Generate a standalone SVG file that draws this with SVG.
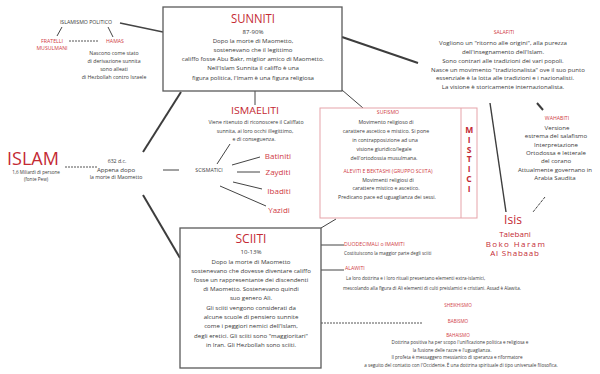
<svg xmlns="http://www.w3.org/2000/svg" width="600" height="374" viewBox="0 0 600 374">
<style>
text{font-family:"Open Sans","Liberation Sans",sans-serif;fill:#3a3a3a;text-anchor:middle}
.r{fill:#cf3a44}
.R{fill:#c42a34}
.l{text-anchor:start}
.f4{font-size:4.6px}.f5{font-size:5.2px}.f6{font-size:6.1px}
.box{fill:#fff;stroke:#5a5a5a;stroke-width:1.3}
.pbox{fill:#fff;stroke:#e6a3a9;stroke-width:1}
.c{stroke:#444;fill:none;stroke-width:1}
.k{stroke:#3d3d3d;fill:none;stroke-width:2}
.d{stroke:#555;fill:none;stroke-width:1;stroke-dasharray:2 1}
.v{writing-mode:vertical-rl;text-orientation:upright;text-anchor:start}
</style>
<rect width="600" height="374" fill="#fff"/>
<g id="connectors">
<line class="c" x1="120" y1="23" x2="163" y2="32" style="stroke-width:1.5"/>
<line class="c" x1="62" y1="27" x2="57" y2="36"/>
<line class="c" x1="108" y1="27" x2="113" y2="37"/>
<line class="d" x1="69" y1="41" x2="98" y2="41"/>
<line class="k" x1="181" y1="92" x2="143" y2="152"/>
<line class="k" x1="143" y1="195" x2="180" y2="258"/>
<line class="d" x1="65" y1="167" x2="97" y2="167"/>
<line class="c" x1="163" y1="170" x2="179" y2="170"/>
<line class="c" x1="217" y1="164" x2="230" y2="144"/>
<line class="c" x1="232" y1="165" x2="260" y2="157"/>
<line class="c" x1="237" y1="172" x2="260" y2="172"/>
<line class="c" x1="233" y1="182" x2="262" y2="189"/>
<line class="c" x1="220" y1="186" x2="266" y2="206"/>
<line class="c" x1="255" y1="91" x2="255" y2="105"/>
<line class="c" x1="342" y1="90" x2="363" y2="108"/>
<line class="k" x1="342" y1="37" x2="418" y2="63"/>
<line class="k" x1="490" y1="103" x2="506" y2="212" style="stroke-width:1.4"/>
<line class="k" x1="537" y1="103" x2="543" y2="110"/>
<line class="c" x1="545" y1="197" x2="533" y2="212" style="stroke-dasharray:3 1"/>
<line class="c" x1="321" y1="228" x2="336" y2="219"/>
<line class="c" x1="321" y1="245" x2="344" y2="245"/>
<line class="c" x1="321" y1="270" x2="344" y2="270"/>
<line class="d" x1="321" y1="323" x2="422" y2="323"/>
</g>
<g id="islamismo">
<text class="f5" x="86" y="24">ISLAMISMO POLITICO</text>
<text class="f5 r" x="52" y="43">FRATELLI</text>
<text class="f5 r" x="52" y="50">MUSULMANI</text>
<text class="f5 r" x="115" y="43">HAMAS</text>
<text class="f5" x="114" y="55">Nascono come stato</text>
<text class="f5" x="114" y="63">di derivazione sunnita</text>
<text class="f5" x="114" y="71">sono alleati</text>
<text class="f5" x="114" y="79">di Hezbollah contro Israele</text>
</g>
<g id="sunniti">
<rect class="box" x="163" y="7" width="179" height="84"/>
<text class="R" x="253" y="23" font-size="12" textLength="44" lengthAdjust="spacingAndGlyphs">SUNNITI</text>
<text class="f6" x="253" y="34">87-90%</text>
<text class="f6" x="253" y="42.5">Dopo la morte di Maometto,</text>
<text class="f6" x="253" y="51.5">sostenevano che il legittimo</text>
<text class="f6" x="253" y="61">califfo fosse Abu Bakr, miglior amico di Maometto.</text>
<text class="f6" x="253" y="70">Nell'Islam Sunnita il califfo è una</text>
<text class="f6" x="253" y="80">figura politica, l'Imam è una figura religiosa</text>
</g>
<g id="islam">
<text class="R" x="33" y="165" font-size="18" textLength="52" lengthAdjust="spacingAndGlyphs">ISLAM</text>
<text class="f4" x="36" y="174">1,6 Miliardi di persone</text>
<text class="f4" x="36" y="181">(fonte Pew)</text>
</g>
<g id="data632">
<text class="f5" x="117" y="163">632 d.c.</text>
<text class="f6" x="116" y="172">Appena dopo</text>
<text class="f5" x="116" y="179">la morte di Maometto</text>
</g>
<g id="scismatici">
<text class="f5" x="209" y="172">SCISMATICI</text>
<text class="r" x="278" y="159" font-size="8">Batiniti</text>
<text class="r" x="278" y="175" font-size="8">Zayditi</text>
<text class="r" x="279" y="194" font-size="8">Ibaditi</text>
<text class="r" x="279" y="213" font-size="8">Yazidi</text>
</g>
<g id="ismaeliti">
<text class="R" x="255" y="114" font-size="9" textLength="48" lengthAdjust="spacingAndGlyphs">ISMAELITI</text>
<text class="f5" x="256" y="124">Viene ritenuto di riconoscere il Califfato</text>
<text class="f5" x="255" y="133">sunnita, ai loro occhi illegittimo,</text>
<text class="f5" x="254" y="141">e di conseguenza.</text>
</g>
<g id="mistici">
<rect class="pbox" x="320" y="108" width="157" height="110"/>
<line x1="461" y1="108" x2="461" y2="218" stroke="#e6a3a9" stroke-width="1"/>
<text class="f5 r" x="388" y="114">SUFISMO</text>
<text class="f5" x="386" y="124">Movimento religioso di</text>
<text class="f5" x="386" y="133">carattere ascetico e mistico. Si pone</text>
<text class="f5" x="385" y="142">in contrapposizione ad una</text>
<text class="f5" x="384" y="151">visione giuridico/legale</text>
<text class="f5" x="384" y="160">dell'ortodossia musulmana.</text>
<text class="f5 r" x="388" y="173">ALEVITI E BEKTASHI (GRUPPO SCIITA)</text>
<text class="f5" x="388" y="182">Movimenti religiosi di</text>
<text class="f5" x="386" y="190">carattere mistico e ascetico.</text>
<text class="f5" x="387" y="199">Predicano pace ed uguaglianza dei sessi.</text>
<text class="R v" x="469" y="124" font-size="8.5" font-weight="bold" letter-spacing="-1.2">MISTICI</text>
</g>
<g id="salafiti">
<text class="f5 r" x="504" y="34">SALAFITI</text>
<text class="f6" x="503" y="45">Vogliono un "ritorno alle origini", alla purezza</text>
<text class="f6" x="503" y="54">dell'insegnamento dell'Islam.</text>
<text class="f6" x="503" y="63">Sono contrari alle tradizioni dei vari popoli.</text>
<text class="f6" x="508" y="72">Nasce un movimento "tradizionalista" ove il suo punto</text>
<text class="f6" x="505" y="80">essenziale è la lotta alle tradizioni e i nazionalisti.</text>
<text class="f6" x="503" y="89">La visione è storicamente internazionalista.</text>
</g>
<g id="wahabiti">
<text class="f5 r" x="557" y="120">WAHABITI</text>
<text class="f6" x="557" y="130">Versione</text>
<text class="f6" x="556" y="138">estrema del salafismo</text>
<text class="f6" x="556" y="147">Interpretazione</text>
<text class="f6" x="556" y="155">Ortodossa e letterale</text>
<text class="f6" x="556" y="163">del corano</text>
<text class="f6" x="555" y="172">Attualmente governano in</text>
<text class="f6" x="555" y="180">Arabia Saudita</text>
</g>
<g id="isis">
<text class="R" x="513" y="224" font-size="12">Isis</text>
<text class="R" x="515" y="237" font-size="8">Talebani</text>
<text class="R" x="516" y="246.5" font-size="8" letter-spacing="1.4">Boko Haram</text>
<text class="R" x="515" y="256" font-size="8" letter-spacing="0.8">Al Shabaab</text>
</g>
<g id="sciiti">
<rect class="box" x="180" y="228" width="141" height="140"/>
<text class="R" x="251" y="243" font-size="13" textLength="31" lengthAdjust="spacingAndGlyphs">SCIITI</text>
<text class="f6" x="251" y="254">10-13%</text>
<text class="f6" x="251" y="263.5">Dopo la morte di Maometto</text>
<text class="f6" x="251" y="272.5">sostenevano che dovesse diventare califfo</text>
<text class="f6" x="251" y="282">fosse un rappresentante dei discendenti</text>
<text class="f6" x="251" y="291">di Maometto. Sostenevano quindi</text>
<text class="f6" x="251" y="300">suo genero Alì.</text>
<text class="f6" x="251" y="310">Gli sciiti vengono considerati da</text>
<text class="f6" x="251" y="319">alcune scuole di pensiero sunnite</text>
<text class="f6" x="251" y="328">come i peggiori nemici dell'Islam,</text>
<text class="f6" x="251" y="338">degli eretici. Gli sciiti sono "maggioritari"</text>
<text class="f6" x="251" y="347">in Iran. Gli Hezbollah sono sciiti.</text>
</g>
<g id="duodecimali">
<text class="f5 r l" x="344" y="246">DUODECIMALI o IMAMITI</text>
<text class="f4 l" x="344" y="255">Costituiscono la maggior parte degli sciiti</text>
</g>
<g id="alawiti">
<text class="f5 r l" x="345" y="270">ALAWITI</text>
<text class="f4 l" x="346" y="280">La loro dottrina e i loro rituali presentano elementi extra-islamici,</text>
<text class="f4 l" x="343" y="290">mescolando alla figura di Ali elementi di culti preislamici e cristiani. Assad è Alawita.</text>
</g>
<g id="altri">
<text class="f4 r" x="458" y="307">SHEIKHISMO</text>
<text class="f4 r" x="458" y="323">BABISMO</text>
<text class="f4 r" x="458" y="337">BAHAISMO</text>
<text class="f4" x="460" y="344">Dottrina positiva ha per scopo l'unificazione politica e religiosa e</text>
<text class="f4" x="452" y="352">la fusione delle razze e l'uguaglianza.</text>
<text class="f4" x="457" y="359">Il profeta è messaggero messianico di speranza e riformatore</text>
<text class="f4" x="461" y="367">a seguito del contatto con l'Occidente. È una dottrina spirituale di tipo universale filosofica.</text>
</g>
</svg>
